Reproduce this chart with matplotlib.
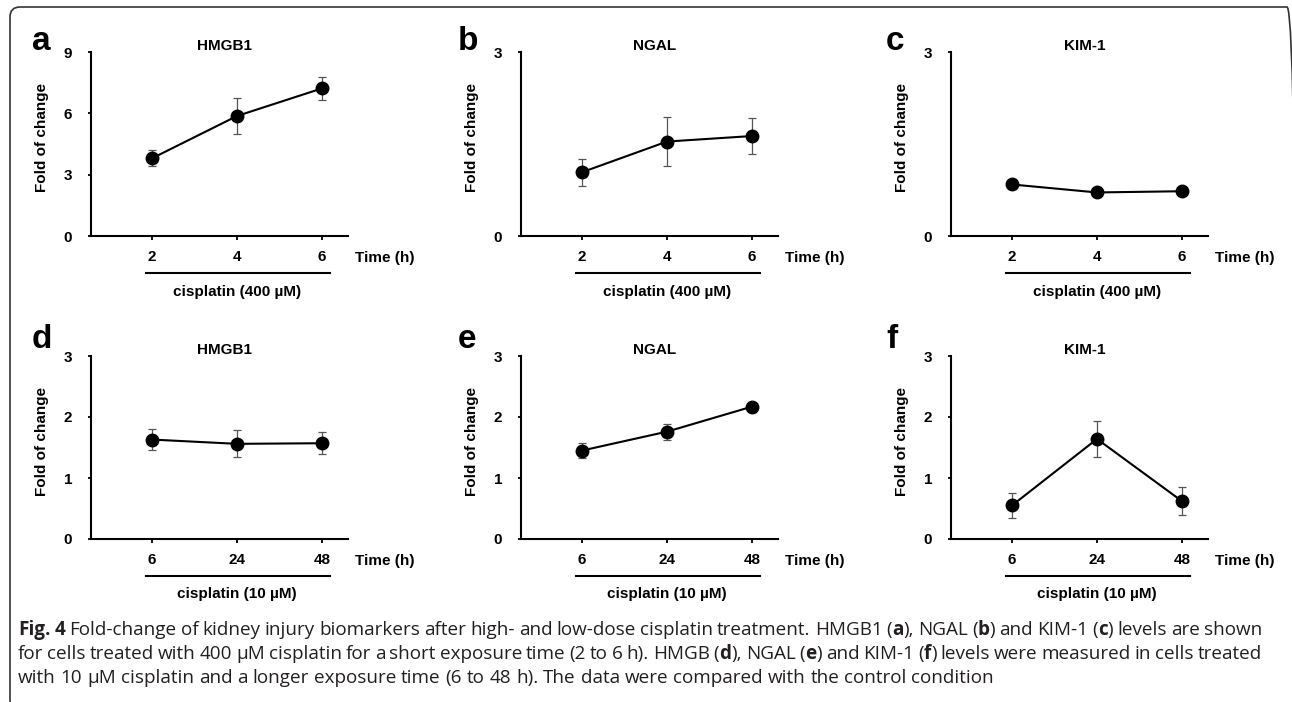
import numpy as np
import matplotlib
matplotlib.use('Agg')
import matplotlib.pyplot as plt
from matplotlib.patches import FancyBboxPatch
from matplotlib.transforms import IdentityTransform, blended_transform_factory

plt.rcParams['font.family'] = ['Liberation Sans', 'DejaVu Sans']

# --- data ---
short_times = ['2', '4', '6']
long_times = ['6', '24', '48']
short_dose = 'cisplatin (400 µM)'
long_dose = 'cisplatin (10 µM)'

hmgb1_short = [3.80, 5.87, 7.22]
hmgb1_short_err = [0.40, 0.90, 0.55]
ngal_short = [1.04, 1.54, 1.63]
ngal_short_err = [0.22, 0.40, 0.30]
kim1_short = [0.84, 0.71, 0.73]
kim1_short_err = [0.03, 0.03, 0.03]

hmgb1_long = [1.63, 1.56, 1.57]
hmgb1_long_err = [0.17, 0.22, 0.18]
ngal_long = [1.45, 1.76, 2.17]
ngal_long_err = [0.12, 0.13, 0.04]
kim1_long = [0.55, 1.64, 0.62]
kim1_long_err = [0.20, 0.30, 0.23]

panels = [
    ('a', 'HMGB1', short_times, short_dose, hmgb1_short, hmgb1_short_err, [0, 3, 6, 9]),
    ('b', 'NGAL', short_times, short_dose, ngal_short, ngal_short_err, [0, 3]),
    ('c', 'KIM-1', short_times, short_dose, kim1_short, kim1_short_err, [0, 3]),
    ('d', 'HMGB1', long_times, long_dose, hmgb1_long, hmgb1_long_err, [0, 1, 2, 3]),
    ('e', 'NGAL', long_times, long_dose, ngal_long, ngal_long_err, [0, 1, 2, 3]),
    ('f', 'KIM-1', long_times, long_dose, kim1_long, kim1_long_err, [0, 1, 2, 3]),
]

caption = [
    "**Fig. 4** Fold-change of kidney injury biomarkers after high- and low-dose cisplatin treatment. "
    "HMGB1 (**a**), NGAL (**b**) and KIM-1 (**c**) levels are shown",
    "for cells treated with 400 µM cisplatin for a short exposure time (2 to 6 h). "
    "HMGB (**d**), NGAL (**e**) and KIM-1 (**f**) levels were measured in cells treated",
    "with 10 µM cisplatin and a longer exposure time (6 to 48 h). The data were compared with the control condition",
]

W, H = 1292, 702
fig = plt.figure(figsize=(W / 100, H / 100), dpi=100)

col_left = [91, 521, 951]
row_top = [52, 356]
row_bot = [236, 539]
ax_w = 257
letter_x = [32, 458, 886]
letter_base = [50, 348]
fs = 11

for i, (letter, title, times, dose, vals, err, yt) in enumerate(panels):
    r, c = divmod(i, 3)
    ax = fig.add_axes([col_left[c] / W, 1 - row_bot[r] / H, ax_w / W, (row_bot[r] - row_top[r]) / H])
    x = np.arange(len(times))
    ax.errorbar(x, vals, yerr=err, fmt='none', ecolor='#555555', elinewidth=0.9,
                capsize=2.6, capthick=0.9, zorder=2)
    ax.plot(x, vals, '-o', color='black', lw=1.5, ms=9, zorder=3)
    ax.set_xlim(-0.718, 2.306)
    ax.set_ylim(0, yt[-1])
    ax.set_yticks(yt)
    ax.set_yticklabels([str(v) for v in yt], fontweight='bold', fontsize=fs)
    ax.set_xticks(x)
    ax.set_xticklabels(times, fontweight='bold', fontsize=fs)
    for s in ['top', 'right']:
        ax.spines[s].set_visible(False)
    for s in ['left', 'bottom']:
        ax.spines[s].set_linewidth(1.5)
    ax.tick_params(axis='y', direction='out', length=2.5, width=1.3, pad=11)
    ax.tick_params(axis='x', direction='out', length=3, width=1.3, pad=7)
    ax.set_ylabel('Fold of change', fontsize=fs, fontweight='bold')
    ax.yaxis.set_label_coords(-0.165, 0.535)
    ax.text(0.52, 1.012, title, transform=ax.transAxes, ha='center', va='baseline',
            fontsize=fs, fontweight='bold')
    ax.text(1.027, -0.141, 'Time (h)', transform=ax.transAxes, ha='left', va='baseline',
            fontsize=fs, fontweight='bold')
    tr = blended_transform_factory(ax.transData, ax.transAxes)
    ax.plot([-0.07, 2.1], [-0.203, -0.203], transform=tr, clip_on=False, color='black', lw=1.5)
    ax.text(1.0, -0.325, dose, transform=tr, ha='center', va='baseline',
            fontsize=fs, fontweight='bold')
    fig.text(letter_x[c] / W, 1 - letter_base[r] / H, letter, fontsize=24,
             fontweight='bold', va='baseline', ha='left')

# --- caption with bold bits, justified ---
renderer = fig.canvas.get_renderer()
cap_kw = dict(family=['Open Sans', 'DejaVu Sans'], color='#231f20',
              transform=IdentityTransform(), va='baseline', ha='left')


def width_of(t):
    return t.get_window_extent(renderer).width


# pick the caption size so the last (unjustified) line ends where it does in the figure
probe = fig.text(0, 0, caption[-1], fontsize=10, **cap_kw)
cap_fs = 10 * (992 - 18) / width_of(probe)
probe.set_fontsize(cap_fs)
probe.set_text('a a')
w2 = width_of(probe)
probe.set_text('aa')
space_w = w2 - width_of(probe)
probe.remove()

x0, x1 = 18, 1262
baselines = [635, 659, 683]
for li, line in enumerate(caption):
    words = [[]]
    for k, part in enumerate(line.split('**')):
        bold = k % 2 == 1
        for j, p in enumerate(part.split(' ')):
            if j > 0:
                words.append([])
            if p:
                words[-1].append((p, bold))
    words = [w for w in words if w]
    objs = []
    for w in words:
        row = []
        for p, bold in w:
            t = fig.text(0, 0, p, fontsize=cap_fs, fontweight='bold' if bold else 'normal', **cap_kw)
            row.append((t, width_of(t)))
        objs.append(row)
    total = sum(wd for row in objs for _, wd in row)
    if li < len(caption) - 1:
        gap = (x1 - x0 - total) / (len(objs) - 1)
    else:
        gap = space_w
    xp = x0
    yb = H - baselines[li]
    for row in objs:
        for t, wd in row:
            t.set_position((xp, yb))
            xp += wd
        xp += gap

frame = FancyBboxPatch((10, -8), 1287, 703, boxstyle='round,pad=0,rounding_size=10',
                       transform=IdentityTransform(), fill=False, ec='#333333', lw=1.2)
fig.add_artist(frame)

fig.savefig('out.png', dpi=100)
